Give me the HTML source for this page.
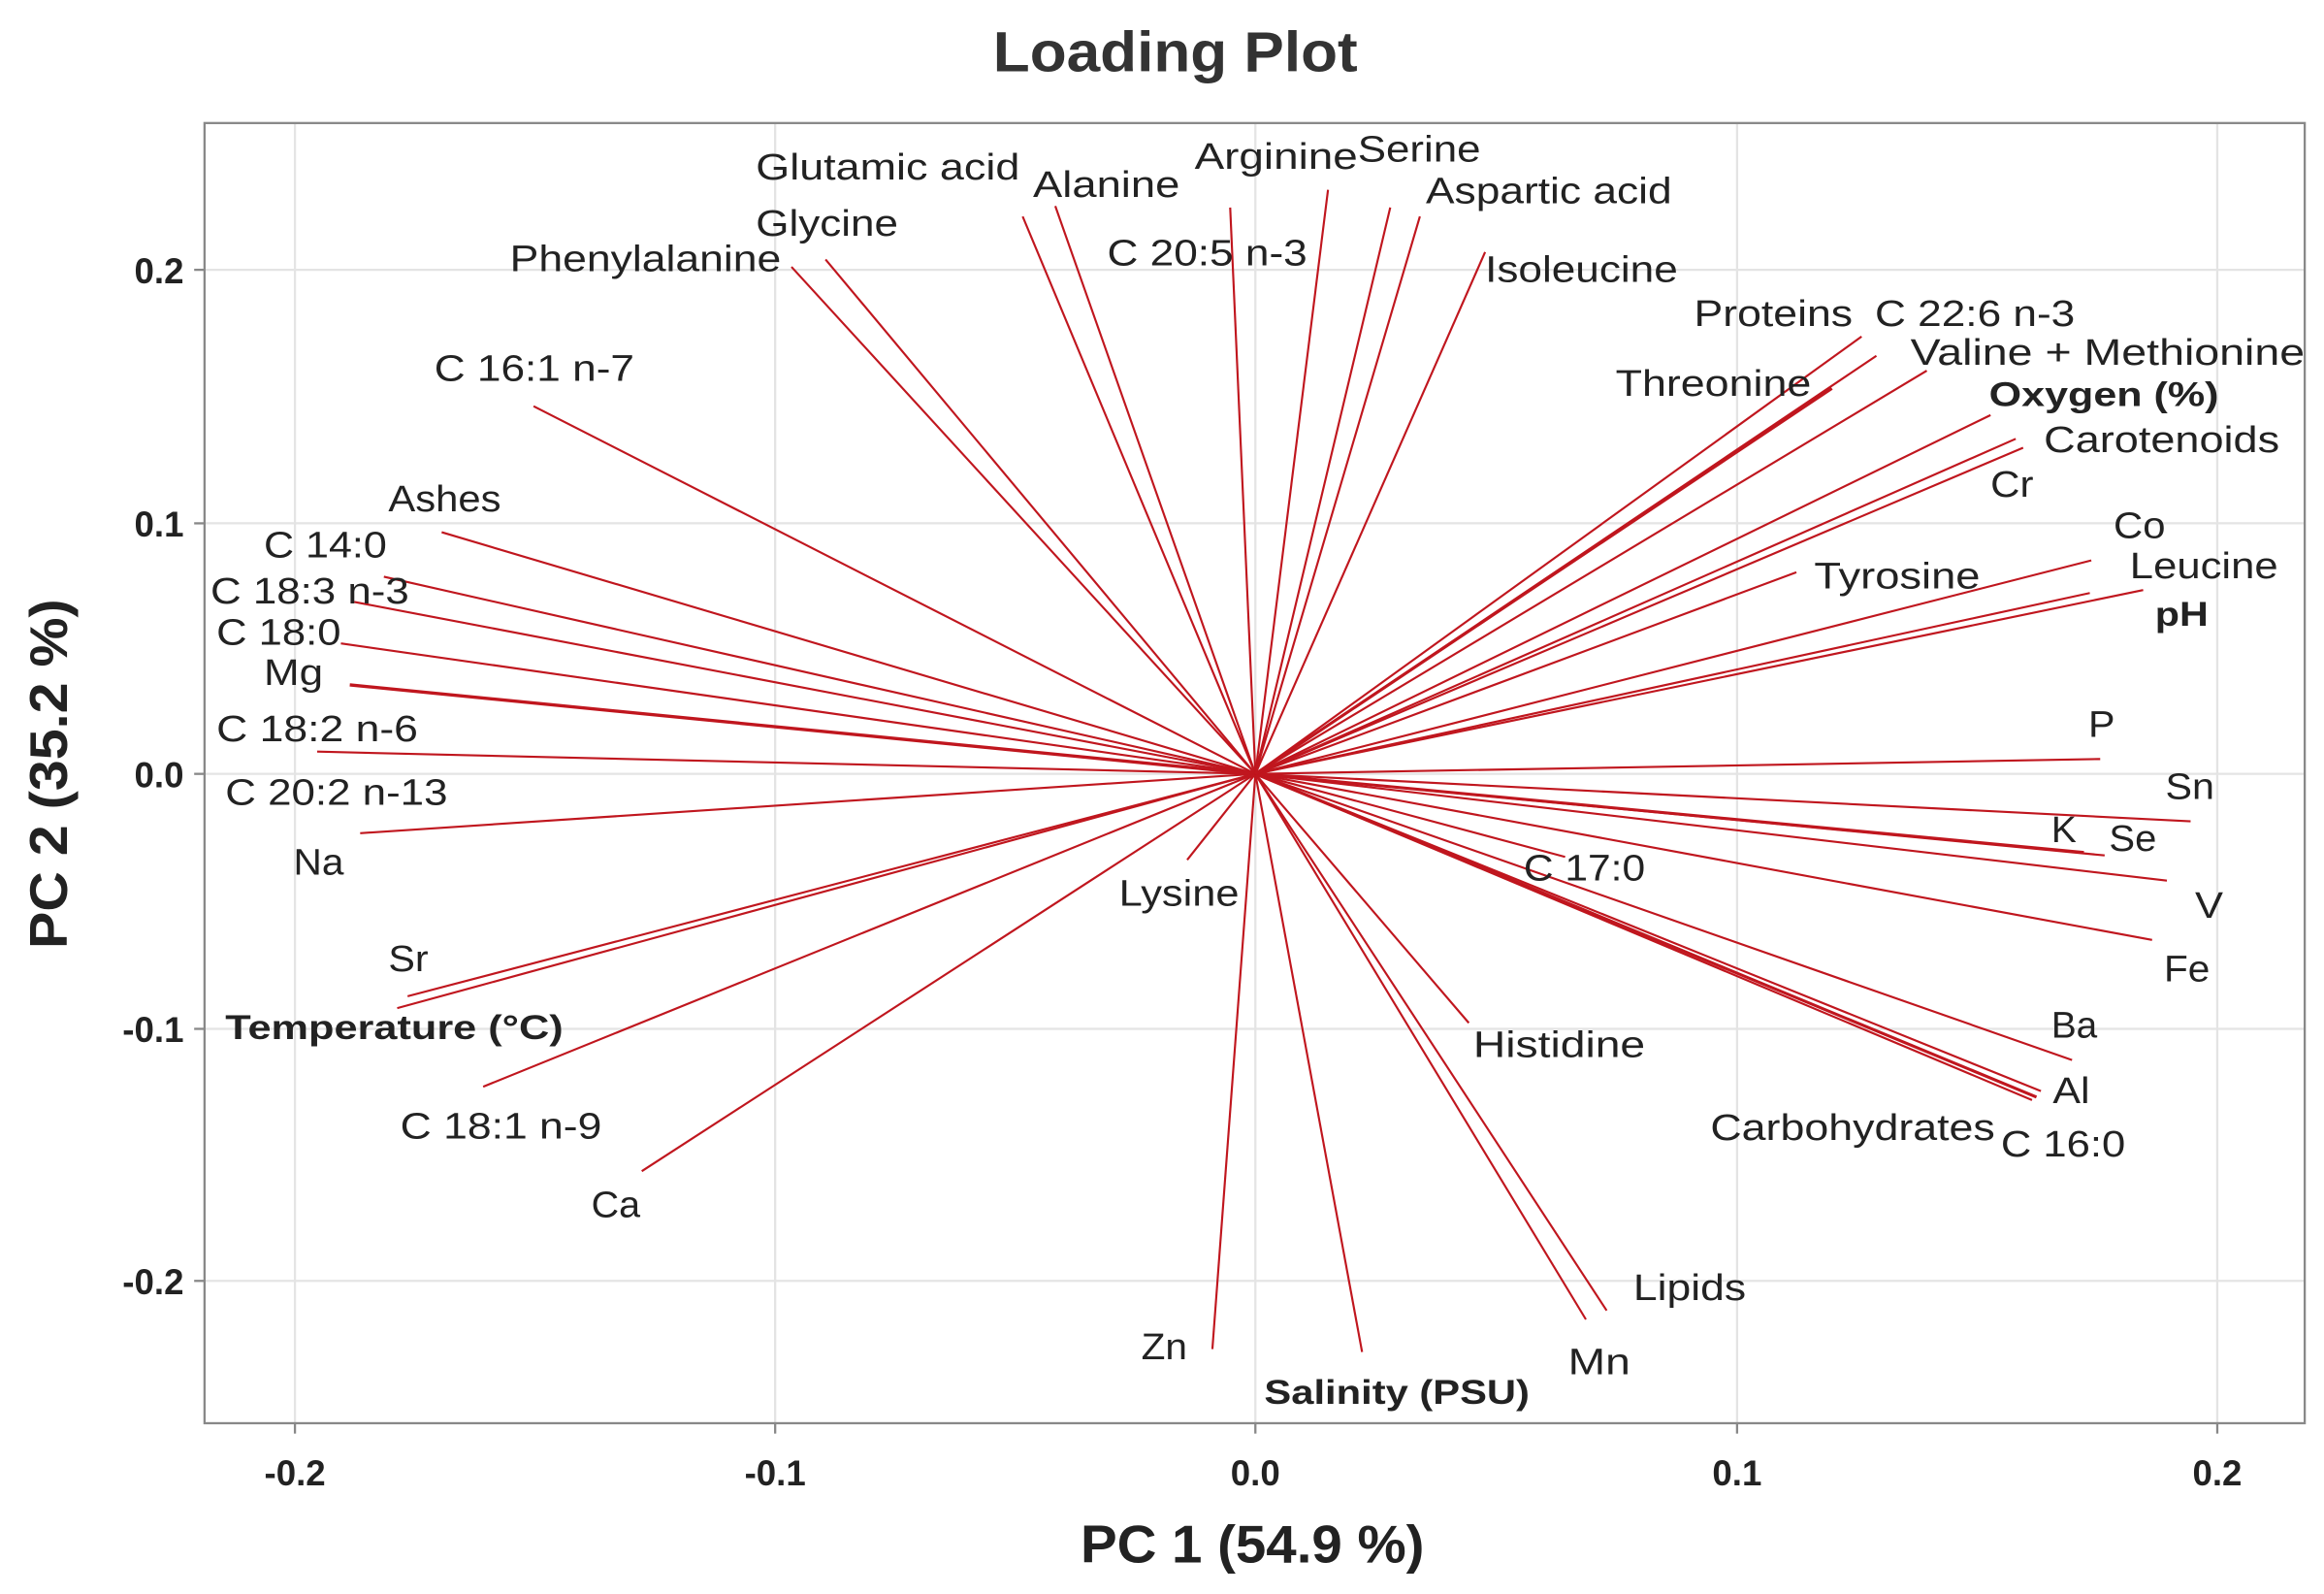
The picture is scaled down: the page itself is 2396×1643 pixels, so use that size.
<!DOCTYPE html>
<html><head><meta charset="utf-8"><style>
html,body{margin:0;padding:0;background:#fff;}
svg{display:block;}
text{font-family:"Liberation Sans",sans-serif;fill:#222;}
.l{font-size:25px;}
.b{font-size:23px;font-weight:bold;}
.t{font-size:24px;font-weight:bold;}
</style></head><body>
<svg width="2396" height="1643" viewBox="0 0 1568 1075.2" preserveAspectRatio="none" xmlns="http://www.w3.org/2000/svg">
<rect x="0" y="0" width="1568" height="1075.2" fill="#fff"/>
<text x="793" y="48" text-anchor="middle" textLength="246" lengthAdjust="spacingAndGlyphs" style="font-size:38px;font-weight:bold;fill:#333">Loading Plot</text>
<g stroke="#e4e4e4" stroke-width="1.5">
<line x1="199" y1="83" x2="199" y2="960"/><line x1="523" y1="83" x2="523" y2="960"/><line x1="847" y1="83" x2="847" y2="960"/><line x1="1172" y1="83" x2="1172" y2="960"/><line x1="1496" y1="83" x2="1496" y2="960"/>
<line x1="138" y1="182" x2="1555" y2="182"/><line x1="138" y1="353" x2="1555" y2="353"/><line x1="138" y1="522" x2="1555" y2="522"/><line x1="138" y1="694" x2="1555" y2="694"/><line x1="138" y1="864" x2="1555" y2="864"/>
</g>
<rect x="138" y="83" width="1417" height="877" fill="none" stroke="#888" stroke-width="1.5"/>
<g stroke="#888" stroke-width="1.5">
<line x1="199" y1="960" x2="199" y2="967"/><line x1="523" y1="960" x2="523" y2="967"/><line x1="847" y1="960" x2="847" y2="967"/><line x1="1172" y1="960" x2="1172" y2="967"/><line x1="1496" y1="960" x2="1496" y2="967"/>
<line x1="131" y1="182" x2="138" y2="182"/><line x1="131" y1="353" x2="138" y2="353"/><line x1="131" y1="522" x2="138" y2="522"/><line x1="131" y1="694" x2="138" y2="694"/><line x1="131" y1="864" x2="138" y2="864"/>
</g>
<g text-anchor="middle">
<text x="199" y="1002" class="t">-0.2</text><text x="523" y="1002" class="t">-0.1</text><text x="847" y="1002" class="t">0.0</text><text x="1172" y="1002" class="t">0.1</text><text x="1496" y="1002" class="t">0.2</text>
</g>
<g text-anchor="end">
<text x="124" y="191" class="t">0.2</text><text x="124" y="362" class="t">0.1</text><text x="124" y="531" class="t">0.0</text><text x="124" y="703" class="t">-0.1</text><text x="124" y="873" class="t">-0.2</text>
</g>
<text x="845" y="1054" text-anchor="middle" textLength="232" lengthAdjust="spacingAndGlyphs" style="font-size:36px;font-weight:bold">PC 1 (54.9 %)</text>
<text transform="translate(45,522) rotate(-90)" text-anchor="middle" textLength="236" lengthAdjust="spacingAndGlyphs" style="font-size:36px;font-weight:bold">PC 2 (35.2 %)</text>
<g stroke="#c0161e" stroke-width="1.4" fill="none">
<line x1="847" y1="522" x2="690" y2="146"/>
<line x1="847" y1="522" x2="712" y2="139"/>
<line x1="847" y1="522" x2="534" y2="180"/>
<line x1="847" y1="522" x2="557" y2="175"/>
<line x1="847" y1="522" x2="830" y2="140"/>
<line x1="847" y1="522" x2="896" y2="128"/>
<line x1="847" y1="522" x2="938" y2="140"/>
<line x1="847" y1="522" x2="958" y2="146"/>
<line x1="847" y1="522" x2="1002" y2="170"/>
<line x1="847" y1="522" x2="360" y2="274"/>
<line x1="847" y1="522" x2="298" y2="359"/>
<line x1="847" y1="522" x2="259" y2="389"/>
<line x1="847" y1="522" x2="239" y2="406"/>
<line x1="847" y1="522" x2="230" y2="434"/>
<line x1="847" y1="522" x2="236" y2="462" stroke-width="2.2"/>
<line x1="847" y1="522" x2="214" y2="507"/>
<line x1="847" y1="522" x2="243" y2="562"/>
<line x1="847" y1="522" x2="275" y2="672"/>
<line x1="847" y1="522" x2="268" y2="680"/>
<line x1="847" y1="522" x2="326" y2="733"/>
<line x1="847" y1="522" x2="433" y2="790"/>
<line x1="847" y1="522" x2="801" y2="580"/>
<line x1="847" y1="522" x2="818" y2="910"/>
<line x1="847" y1="522" x2="919" y2="912"/>
<line x1="847" y1="522" x2="1070" y2="890"/>
<line x1="847" y1="522" x2="1084" y2="884"/>
<line x1="847" y1="522" x2="991" y2="690"/>
<line x1="847" y1="522" x2="1056" y2="578"/>
<line x1="847" y1="522" x2="1398" y2="715"/>
<line x1="847" y1="522" x2="1377" y2="736"/>
<line x1="847" y1="522" x2="1374" y2="740" stroke-width="2"/>
<line x1="847" y1="522" x2="1371" y2="742"/>
<line x1="847" y1="522" x2="1452" y2="634"/>
<line x1="847" y1="522" x2="1462" y2="594"/>
<line x1="847" y1="522" x2="1420" y2="577"/>
<line x1="847" y1="522" x2="1406" y2="575" stroke-width="2"/>
<line x1="847" y1="522" x2="1478" y2="554"/>
<line x1="847" y1="522" x2="1417" y2="512"/>
<line x1="847" y1="522" x2="1446" y2="398"/>
<line x1="847" y1="522" x2="1410" y2="400"/>
<line x1="847" y1="522" x2="1411" y2="378"/>
<line x1="847" y1="522" x2="1212" y2="386"/>
<line x1="847" y1="522" x2="1365" y2="302"/>
<line x1="847" y1="522" x2="1360" y2="296"/>
<line x1="847" y1="522" x2="1343" y2="280"/>
<line x1="847" y1="522" x2="1300" y2="250"/>
<line x1="847" y1="522" x2="1266" y2="240"/>
<line x1="847" y1="522" x2="1256" y2="227"/>
<line x1="847" y1="522" x2="1236" y2="262" stroke-width="2"/>
</g>
<g>
<text x="510" y="121" class="l" lengthAdjust="spacingAndGlyphs" textLength="178">Glutamic acid</text>
<text x="697" y="133" class="l" lengthAdjust="spacingAndGlyphs" textLength="99">Alanine</text>
<text x="344" y="183" class="l" lengthAdjust="spacingAndGlyphs" textLength="183">Phenylalanine</text>
<text x="510" y="159" class="l" lengthAdjust="spacingAndGlyphs" textLength="96">Glycine</text>
<text x="747" y="179" class="l" lengthAdjust="spacingAndGlyphs" textLength="135">C 20:5 n-3</text>
<text x="806" y="114" class="l" lengthAdjust="spacingAndGlyphs" textLength="110">Arginine</text>
<text x="916" y="109" class="l" lengthAdjust="spacingAndGlyphs" textLength="83">Serine</text>
<text x="962" y="137" class="l" lengthAdjust="spacingAndGlyphs" textLength="166">Aspartic acid</text>
<text x="1002" y="190" class="l" lengthAdjust="spacingAndGlyphs" textLength="130">Isoleucine</text>
<text x="293" y="257" class="l" lengthAdjust="spacingAndGlyphs" textLength="135">C 16:1 n-7</text>
<text x="262" y="345" class="l" lengthAdjust="spacingAndGlyphs" textLength="76">Ashes</text>
<text x="178" y="376" class="l" lengthAdjust="spacingAndGlyphs" textLength="83">C 14:0</text>
<text x="142" y="407" class="l" lengthAdjust="spacingAndGlyphs" textLength="134">C 18:3 n-3</text>
<text x="146" y="435" class="l" lengthAdjust="spacingAndGlyphs" textLength="84">C 18:0</text>
<text x="178" y="462" class="l" lengthAdjust="spacingAndGlyphs" textLength="40">Mg</text>
<text x="146" y="500" class="l" lengthAdjust="spacingAndGlyphs" textLength="136">C 18:2 n-6</text>
<text x="152" y="543" class="l" lengthAdjust="spacingAndGlyphs" textLength="150">C 20:2 n-13</text>
<text x="198" y="590" class="l" lengthAdjust="spacingAndGlyphs" textLength="34">Na</text>
<text x="262" y="655" class="l" lengthAdjust="spacingAndGlyphs" textLength="27">Sr</text>
<text x="152" y="701" class="b" lengthAdjust="spacingAndGlyphs" textLength="228">Temperature (°C)</text>
<text x="270" y="768" class="l" lengthAdjust="spacingAndGlyphs" textLength="136">C 18:1 n-9</text>
<text x="399" y="821" class="l" lengthAdjust="spacingAndGlyphs" textLength="33">Ca</text>
<text x="755" y="611" class="l" lengthAdjust="spacingAndGlyphs" textLength="81">Lysine</text>
<text x="770" y="917" class="l" lengthAdjust="spacingAndGlyphs" textLength="31">Zn</text>
<text x="853" y="947" class="b" lengthAdjust="spacingAndGlyphs" textLength="179">Salinity (PSU)</text>
<text x="1058" y="927" class="l" lengthAdjust="spacingAndGlyphs" textLength="42">Mn</text>
<text x="1102" y="877" class="l" lengthAdjust="spacingAndGlyphs" textLength="76">Lipids</text>
<text x="994" y="713" class="l" lengthAdjust="spacingAndGlyphs" textLength="116">Histidine</text>
<text x="1028" y="594" class="l" lengthAdjust="spacingAndGlyphs" textLength="82">C 17:0</text>
<text x="1384" y="700" class="l" lengthAdjust="spacingAndGlyphs" textLength="31">Ba</text>
<text x="1385" y="744" class="l" lengthAdjust="spacingAndGlyphs" textLength="25">Al</text>
<text x="1350" y="780" class="l" lengthAdjust="spacingAndGlyphs" textLength="84">C 16:0</text>
<text x="1154" y="769" class="l" lengthAdjust="spacingAndGlyphs" textLength="192">Carbohydrates</text>
<text x="1460" y="662" class="l" lengthAdjust="spacingAndGlyphs" textLength="31">Fe</text>
<text x="1481" y="619" class="l" lengthAdjust="spacingAndGlyphs" textLength="19">V</text>
<text x="1423" y="574" class="l" lengthAdjust="spacingAndGlyphs" textLength="32">Se</text>
<text x="1384" y="568" class="l" lengthAdjust="spacingAndGlyphs" textLength="17">K</text>
<text x="1461" y="539" class="l" lengthAdjust="spacingAndGlyphs" textLength="33">Sn</text>
<text x="1409" y="497" class="l" lengthAdjust="spacingAndGlyphs" textLength="18">P</text>
<text x="1454" y="422" class="b" lengthAdjust="spacingAndGlyphs" textLength="36">pH</text>
<text x="1437" y="390" class="l" lengthAdjust="spacingAndGlyphs" textLength="100">Leucine</text>
<text x="1426" y="363" class="l" lengthAdjust="spacingAndGlyphs" textLength="35">Co</text>
<text x="1224" y="397" class="l" lengthAdjust="spacingAndGlyphs" textLength="112">Tyrosine</text>
<text x="1343" y="335" class="l" lengthAdjust="spacingAndGlyphs" textLength="29">Cr</text>
<text x="1379" y="305" class="l" lengthAdjust="spacingAndGlyphs" textLength="159">Carotenoids</text>
<text x="1342" y="274" class="b" lengthAdjust="spacingAndGlyphs" textLength="155">Oxygen (%)</text>
<text x="1289" y="246" class="l" lengthAdjust="spacingAndGlyphs" textLength="266">Valine + Methionine</text>
<text x="1265" y="220" class="l" lengthAdjust="spacingAndGlyphs" textLength="135">C 22:6 n-3</text>
<text x="1143" y="220" class="l" lengthAdjust="spacingAndGlyphs" textLength="107">Proteins</text>
<text x="1090" y="267" class="l" lengthAdjust="spacingAndGlyphs" textLength="132">Threonine</text>
</g>
</svg>
</body></html>
